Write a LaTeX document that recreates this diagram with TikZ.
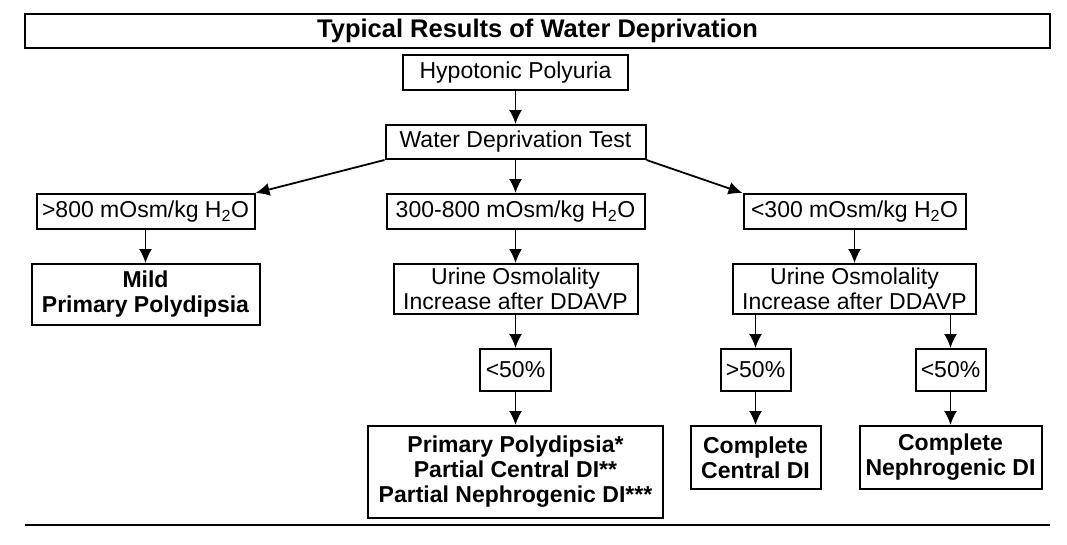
\documentclass[tikz,border=0pt]{standalone}
\usepackage{fontspec}
\setmainfont{Liberation Sans}
\usetikzlibrary{
    arrows.meta,
    positioning
}

\begin{document}
\begin{tikzpicture}[
    x=1pt,
    y=-1pt,
    node distance=33pt,
    >={Latex[length=14pt,width=13pt]},
    box/.style={
        draw,
        line width=2pt,
        inner sep=0pt,
        align=center,
        font=\fontsize{23}{25}\selectfont
    },
    boldbox/.style={
        box,
        font=\bfseries\fontsize{23}{25}\selectfont
    },
    link/.style={->, line width=1.8pt}
]

\useasboundingbox (0,0) rectangle (1067,544);

\node[
    box,
    minimum width=1025pt,
    minimum height=34pt,
    font=\bfseries\fontsize{25.5}{28}\selectfont
] (title) at (537.5,31) {Typical Results of Water Deprivation};

\node[
    box,
    minimum width=225pt,
    minimum height=35pt
] (hypo) at (515.5,72.5) {Hypotonic Polyuria};

\node[
    box,
    minimum width=260pt,
    minimum height=34pt,
    below=of hypo
] (wdt) {Water Deprivation Test};

\node[
    box,
    minimum width=258pt,
    minimum height=35pt,
    below=of wdt
] (mid) {300-800 mOsm/kg H\textsubscript{2}O};

\node[
    box,
    minimum width=218pt,
    minimum height=35pt,
    left=130pt of mid
] (high) {>800 mOsm/kg H\textsubscript{2}O};

\node[
    box,
    minimum width=222pt,
    minimum height=35pt,
    right=97pt of mid
] (low) {<300 mOsm/kg H\textsubscript{2}O};

\node[
    boldbox,
    minimum width=228pt,
    minimum height=61pt,
    below=of high
] (mild) {Mild\\Primary Polydipsia};

\node[
    box,
    minimum width=244pt,
    minimum height=50pt,
    below=of mid
] (urineM) {Urine Osmolality\\Increase after DDAVP};

\node[
    box,
    minimum width=243pt,
    minimum height=50pt,
    below=of low
] (urineR) {Urine Osmolality\\Increase after DDAVP};

\node[
    box,
    minimum width=71pt,
    minimum height=42pt,
    below=of urineM
] (pctM) {<50\%};

\node[
    box,
    minimum width=70pt,
    minimum height=42pt,
    below=of urineR,
    xshift=-99pt
] (pctHi) {>50\%};

\node[
    box,
    minimum width=70pt,
    minimum height=42pt,
    below=of urineR,
    xshift=96pt
] (pctLo) {<50\%};

\node[
    boldbox,
    minimum width=295pt,
    minimum height=92pt,
    below=of pctM
] (partial) {Primary Polydipsia*\\Partial Central DI**\\Partial Nephrogenic DI***};

\node[
    boldbox,
    minimum width=130pt,
    minimum height=63pt,
    below=of pctHi
] (central) {Complete\\Central DI};

\node[
    boldbox,
    minimum width=182pt,
    minimum height=63pt,
    below=of pctLo
] (nephro) {Complete\\Nephrogenic DI};

\coordinate (ruleL) at (25,525);
\coordinate (ruleR) at (1050,525);
\draw[line width=2pt] (ruleL) -- (ruleR);

\draw[link] (hypo) -- (wdt);
\draw[link] (wdt) -- (mid);
\draw[link] (wdt.south west) -- (high.north east);
\draw[link] (wdt.south east) -- (low.north west);
\draw[link] (high.south) -- (high.south |- mild.north);
\draw[link] (mid) -- (urineM);
\draw[link] (low) -- (urineR);
\draw[link] (urineM) -- (pctM);
\draw[link] (pctM) -- (partial);
\draw[link] (pctHi |- urineR.south) -- (pctHi);
\draw[link] (pctLo |- urineR.south) -- (pctLo);
\draw[link] (pctHi) -- (central);
\draw[link] (pctLo) -- (nephro);

\end{tikzpicture}
\end{document}
